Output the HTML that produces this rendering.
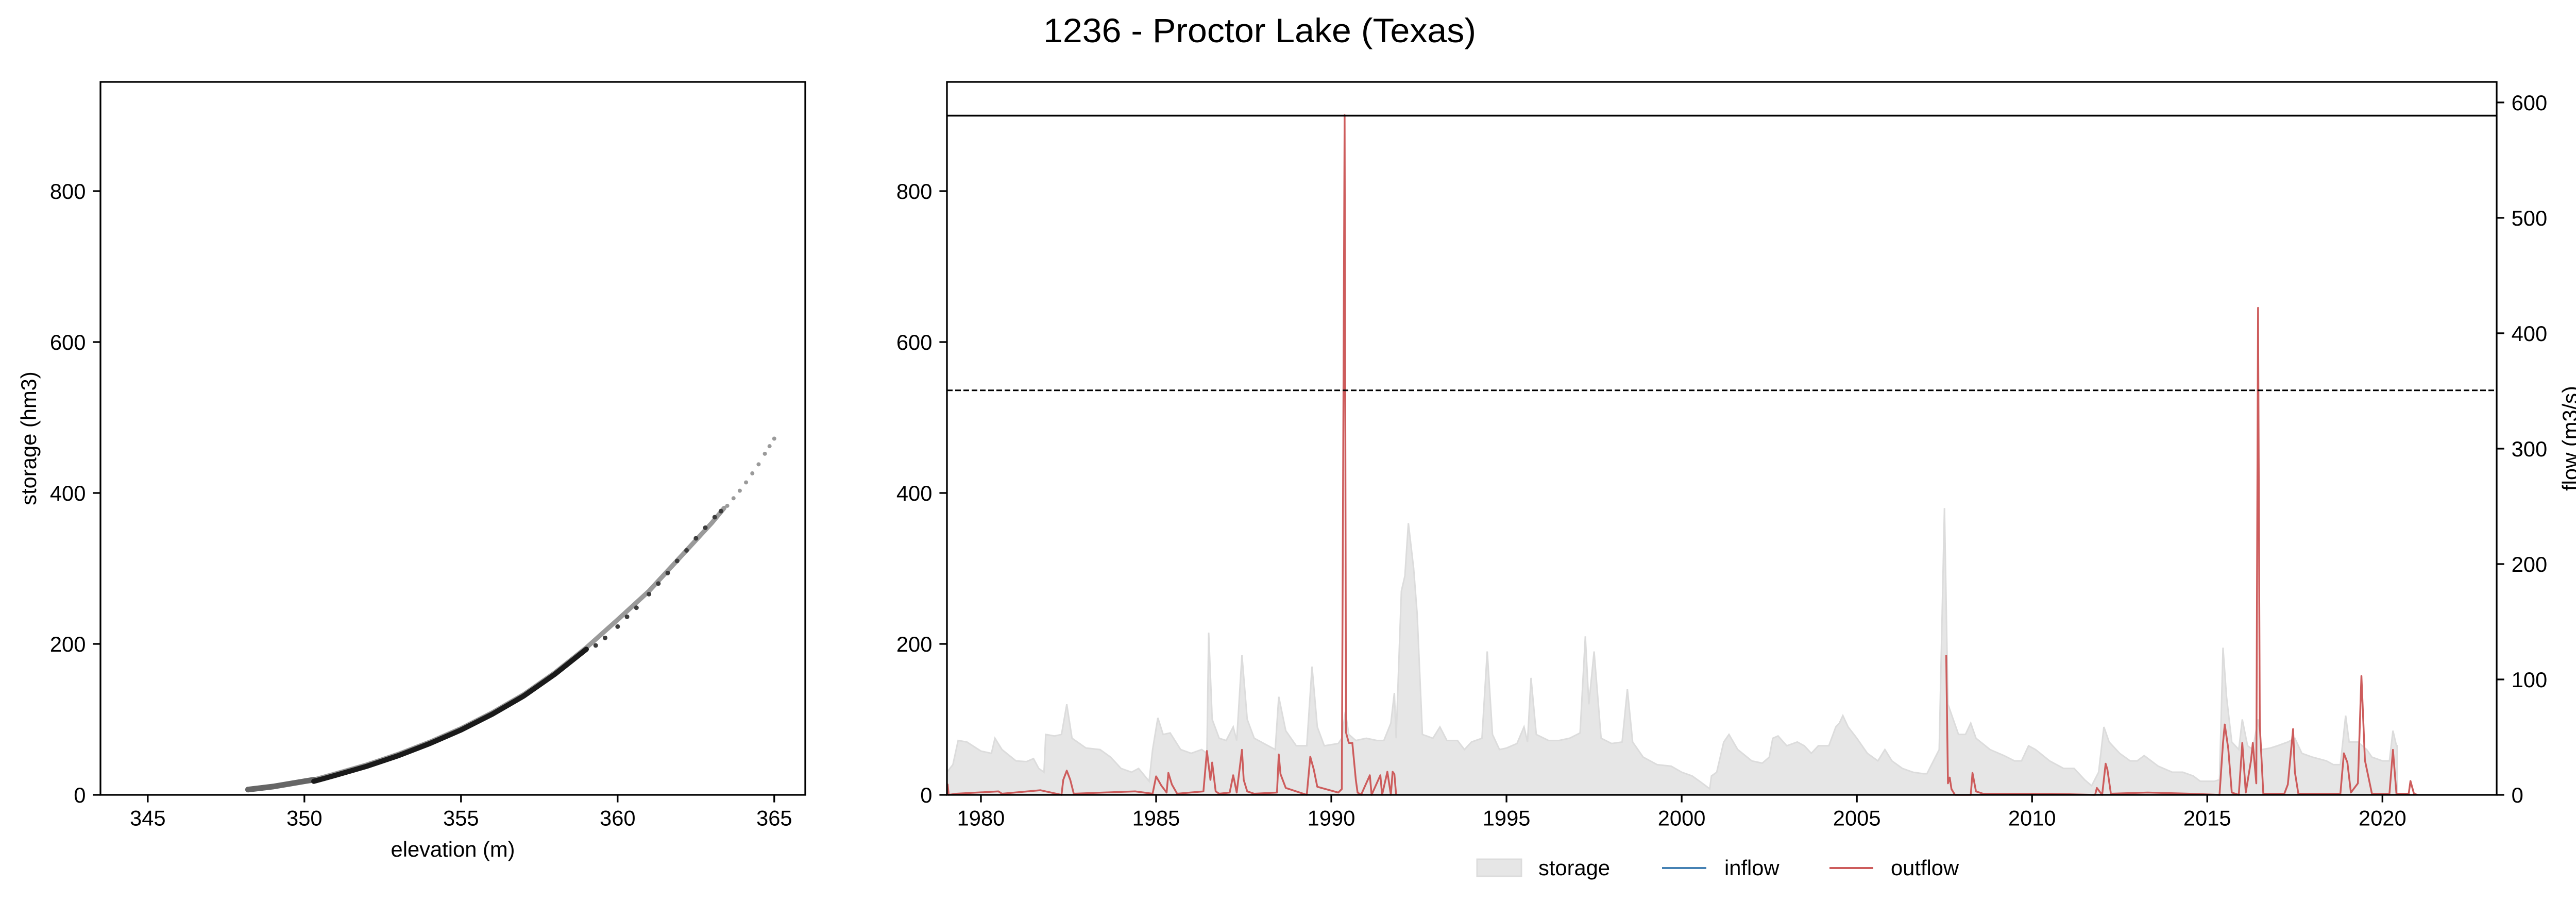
<!DOCTYPE html>
<html><head><meta charset="utf-8"><style>
html,body{margin:0;padding:0;background:#fff;}
svg{display:block;font-family:"Liberation Sans","DejaVu Sans",sans-serif;}
</style></head>
<body>
<svg id="fig" width="5040" height="1751" viewBox="0 0 5040 1751" xmlns="http://www.w3.org/2000/svg">
<rect width="5040" height="1751" fill="#fff"/>
<text x="2445" y="82" font-size="66" text-anchor="middle" textLength="840" lengthAdjust="spacingAndGlyphs">1236 - Proctor Lake (Texas)</text>
<g id="left"></g>
<g id="right"></g>
<g id="legend">
  <rect x="2867" y="1668" width="86" height="33" fill="#e6e6e6" stroke="#dcdcdc" stroke-width="3"/>
  <text x="2986" y="1699" font-size="41.7">storage</text>
  <line x1="3226" y1="1685" x2="3312" y2="1685" stroke="#4682b4" stroke-width="4"/>
  <text x="3347" y="1699" font-size="41.7">inflow</text>
  <line x1="3551" y1="1685" x2="3636" y2="1685" stroke="#cd5c5c" stroke-width="4"/>
  <text x="3670" y="1699" font-size="41.7">outflow</text>
</g>
</svg>
<script>
// ---- left chart data: elevation (m) vs storage (hm3)
const curveElev = [348.2,349,350,350.3,351,352,353,354,355,356,357,358,359,360,361,362,363,363.4];
const curveStor = [7,11,18,20,28,40,54,70,88,109,133,162,195,232,270,315,360,380];
const darkElev = [359.3,359.6,360.0,360.3,360.6,361.0,361.3,361.6,361.9,362.2,362.5,362.8,363.1,363.3];
const darkStor = [200,210,225,238,250,268,282,296,312,326,342,356,370,378];
const lightElev = [363.5,363.7,363.9,364.1,364.3,364.5,364.7,364.85,365.0];
const lightStor = [383,393,403,414,426,438,452,462,472];
const leftXTicks = [345,350,355,360,365];
const leftYTicks = [0,200,400,600,800];

// ---- right chart data
const storYears = [1979.03,1979.2,1979.35,1979.6,1980.0,1980.3,1980.4,1980.6,1981.0,1981.3,1981.5,1981.65,1981.8,1981.85,1982.1,1982.3,1982.45,1982.6,1983.0,1983.4,1983.7,1984.0,1984.3,1984.5,1984.8,1984.9,1985.05,1985.2,1985.4,1985.7,1986.0,1986.3,1986.45,1986.5,1986.6,1986.8,1987.0,1987.2,1987.3,1987.45,1987.6,1987.8,1988.2,1988.4,1988.5,1988.7,1989.0,1989.3,1989.45,1989.6,1989.8,1990.2,1990.3,1990.4,1990.5,1990.7,1991.0,1991.3,1991.5,1991.7,1991.8,1991.85,1992.0,1992.1,1992.2,1992.35,1992.45,1992.6,1992.9,1993.1,1993.3,1993.6,1993.8,1994.0,1994.3,1994.45,1994.6,1994.8,1995.0,1995.3,1995.5,1995.6,1995.7,1995.85,1996.2,1996.5,1996.8,1997.1,1997.25,1997.35,1997.5,1997.7,1998.0,1998.3,1998.45,1998.6,1998.9,1999.3,1999.7,2000.0,2000.3,2000.6,2000.8,2000.85,2001.0,2001.2,2001.35,2001.6,2002.0,2002.3,2002.5,2002.6,2002.75,2003.0,2003.3,2003.5,2003.7,2003.9,2004.2,2004.4,2004.5,2004.6,2004.75,2005.0,2005.3,2005.6,2005.8,2006.0,2006.3,2006.6,2006.9,2007.0,2007.35,2007.5,2007.6,2007.9,2008.1,2008.25,2008.4,2008.8,2009.2,2009.5,2009.7,2009.9,2010.1,2010.5,2010.9,2011.2,2011.5,2011.7,2011.9,2012.05,2012.2,2012.5,2012.8,2013.0,2013.2,2013.4,2013.6,2014.0,2014.3,2014.6,2014.8,2015.2,2015.35,2015.45,2015.55,2015.7,2015.9,2016.0,2016.15,2016.3,2016.45,2016.55,2016.8,2017.0,2017.3,2017.5,2017.7,2018.0,2018.4,2018.6,2018.8,2018.95,2019.05,2019.3,2019.55,2019.7,2020.0,2020.2,2020.3,2020.4,2020.42];
const storValues = [30,40,72,70,58,55,75,60,45,44,48,35,30,80,78,80,120,75,62,60,50,35,30,35,18,60,102,80,82,60,55,60,55,215,100,75,72,90,72,185,100,75,65,60,130,85,65,65,170,90,65,68,75,110,80,72,75,72,72,95,135,75,270,290,360,300,240,80,75,90,72,72,60,70,75,190,80,60,62,68,90,70,155,80,72,72,75,82,210,120,190,75,68,70,140,70,50,40,38,30,25,15,8,25,30,70,80,60,45,42,50,75,78,65,70,65,55,65,65,90,95,105,90,75,55,45,60,45,35,30,28,28,60,380,120,80,80,95,75,60,52,45,45,65,60,45,35,35,20,12,30,90,70,55,45,45,52,45,38,30,30,25,18,18,20,195,130,70,60,100,65,60,100,60,62,65,70,75,55,50,45,40,40,105,70,70,60,50,45,45,85,65,65];
const flowYears = [1979.03,1979.05,1979.08,1979.3,1980.5,1980.6,1981.7,1982.3,1982.35,1982.45,1982.55,1982.65,1983.5,1984.4,1984.9,1985.0,1985.15,1985.3,1985.35,1985.45,1985.6,1986.35,1986.45,1986.55,1986.6,1986.7,1986.8,1987.1,1987.2,1987.3,1987.45,1987.5,1987.6,1987.8,1988.45,1988.5,1988.55,1988.7,1989.3,1989.4,1989.5,1989.6,1990.2,1990.3,1990.38,1990.42,1990.5,1990.6,1990.7,1990.75,1990.85,1991.1,1991.15,1991.4,1991.45,1991.6,1991.7,1991.75,1991.8,1991.85,null,2007.55,2007.6,2007.65,2007.7,2007.8,2008.25,2008.3,2008.4,2008.6,2009.5,2010.5,2011.8,2011.85,2012.0,2012.1,2012.15,2012.25,2013.3,2014.5,2015.35,2015.45,2015.5,2015.6,2015.7,2015.9,2016.0,2016.1,2016.25,2016.3,2016.4,2016.45,2016.5,2016.6,2017.2,2017.3,2017.45,2017.5,2017.6,2018.8,2018.9,2019.0,2019.1,2019.3,2019.4,2019.5,2019.7,2020.2,2020.3,2020.4,2020.75,2020.8,2020.9,2021.0];
const flowValues = [0,9,0,1,3,1,4,0,13,21,13,1,2,3,1,16,8,2,19,9,1,3,38,13,28,3,1,2,17,2,39,13,3,1,2,35,18,6,0,33,22,7,2,5,589,54,45,45,13,2,0,17,0,17,0,20,0,20,18,0,null,121,10,15,5,0,0,19,3,1,1,1,0,6,0,27,22,1,2,1,0,45,61,40,2,0,45,2,30,45,10,422,60,1,1,9,57,20,1,1,36,28,2,10,103,30,1,1,39,1,1,12,1,0];
const inflowYears = [];
const inflowValues = [];
const rightYTicks = [0,200,400,600,800];
const flowTicks = [0,100,200,300,400,500,600];
const yearTicks = [1980,1985,1990,1995,2000,2005,2010,2015,2020];
const refStorageMax = 900;
const refStorageDashed = 536;

const NS = "http://www.w3.org/2000/svg";
function mk(parent, tag, attrs, text){
  const e = document.createElementNS(NS, tag);
  for (const k in attrs) e.setAttribute(k, attrs[k]);
  if (text !== undefined) e.textContent = text;
  parent.appendChild(e);
  return e;
}
const FS = 41.7, TL = 14.6;

// ---------- LEFT ----------
const L = {x0:195, x1:1563, y0:159, y1:1543, emin:343.49, emax:365.99, smin:0, smax:944.7};
const lx = v => L.x0 + (v - L.emin) / (L.emax - L.emin) * (L.x1 - L.x0);
const ly = v => L.y1 - (v - L.smin) / (L.smax - L.smin) * (L.y1 - L.y0);
const left = document.getElementById('left');

let pts1 = [];
curveElev.forEach((e,i)=>{ const p = lx(e)+','+ly(curveStor[i]); if (e <= 350.3) pts1.push(p); });
let el = mk(left,'polyline',{points:curveElev.map((e,i)=>lx(e)+','+ly(curveStor[i])).join(' '),fill:'none',stroke:'#9a9a9a','stroke-width':9,'stroke-linecap':'round'});


el = mk(left,'polyline',{points:pts1.join(' '),fill:'none',stroke:'#666','stroke-width':11,'stroke-linecap':'round'});


const darkPts = [];
curveElev.forEach((e,i)=>{ if (e >= 350.3 && e <= 359.3) darkPts.push(lx(e)+','+(ly(curveStor[i])+3)); });
el = mk(left,'polyline',{points:darkPts.join(' '),fill:'none',stroke:'#1a1a1a','stroke-width':10,'stroke-linecap':'round'});


darkElev.forEach((e,i)=>{
  const c = mk(left,'circle',{cx:lx(e),cy:ly(darkStor[i])+3,r:4.5,fill:'#3c3c3c'});
  
  
});
lightElev.forEach((e,i)=>{
  const c = mk(left,'circle',{cx:lx(e),cy:ly(lightStor[i]),r:4,fill:'#9a9a9a'});
  
  
});
el = mk(left,'rect',{x:L.x0,y:L.y0,width:L.x1-L.x0,height:L.y1-L.y0,fill:'none',stroke:'#000','stroke-width':3.3});


leftXTicks.forEach(t=>{
  const x = lx(t);
  mk(left,'line',{x1:x,y1:L.y1,x2:x,y2:L.y1+TL,stroke:'#000','stroke-width':3.3});
  const tx = mk(left,'text',{x:x,y:L.y1+TL+14+31,'font-size':FS,'text-anchor':'middle'},String(t));
  
  
});
leftYTicks.forEach(t=>{
  const y = ly(t);
  mk(left,'line',{x1:L.x0-TL,y1:y,x2:L.x0,y2:y,stroke:'#000','stroke-width':3.3});
  const tx = mk(left,'text',{x:L.x0-TL-14,y:y+15,'font-size':FS,'text-anchor':'end'},String(t));
  
  
});
el = mk(left,'text',{x:(L.x0+L.x1)/2,y:1663,'font-size':FS,'text-anchor':'middle'},'elevation (m)');


el = mk(left,'text',{x:0,y:0,'font-size':FS,'text-anchor':'middle',transform:'translate(70,851) rotate(-90)'},'storage (hm3)');



// ---------- RIGHT ----------
const R = {x0:1838, x1:4846, y0:159, y1:1543, tmin:1979.03, tmax:2023.26, smax:944.7, fmax:617.8};
const rx = v => R.x0 + (v - R.tmin) / (R.tmax - R.tmin) * (R.x1 - R.x0);
const rys = v => R.y1 - v / R.smax * (R.y1 - R.y0);
const ryf = v => R.y1 - v / R.fmax * (R.y1 - R.y0);
const right = document.getElementById('right');

let d = 'M'+rx(storYears[0])+','+R.y1;
storYears.forEach((t,i)=>{ d += ' L'+rx(t)+','+rys(storValues[i]); });
d += ' L'+rx(storYears[storYears.length-1])+','+R.y1+' Z';
el = mk(right,'path',{d:d,fill:'#e6e6e6',stroke:'#dcdcdc','stroke-width':3});



function seriesPath(xs, ys){
  let p = '', pen = false;
  xs.forEach((t,i)=>{
    if (t === null || ys[i] === null){ pen = false; return; }
    p += (pen ? ' L' : ' M') + rx(t) + ',' + ryf(ys[i]); pen = true;
  });
  return p;
}
if (inflowYears.length){
  el = mk(right,'path',{d:seriesPath(inflowYears,inflowValues),fill:'none',stroke:'#4682b4','stroke-width':3.5});
  
  
}
el = mk(right,'path',{d:seriesPath(flowYears,flowValues),fill:'none',stroke:'#cd5c5c','stroke-width':3.5,'stroke-linejoin':'round'});



el = mk(right,'line',{x1:R.x0,y1:rys(refStorageMax),x2:R.x1,y2:rys(refStorageMax),stroke:'#000','stroke-width':3.5});


el = mk(right,'line',{x1:R.x0,y1:rys(refStorageDashed),x2:R.x1,y2:rys(refStorageDashed),stroke:'#000','stroke-width':3,'stroke-dasharray':'11,5'});



el = mk(right,'rect',{x:R.x0,y:R.y0,width:R.x1-R.x0,height:R.y1-R.y0,fill:'none',stroke:'#000','stroke-width':3.3});


yearTicks.forEach(t=>{
  const x = rx(t);
  mk(right,'line',{x1:x,y1:R.y1,x2:x,y2:R.y1+TL,stroke:'#000','stroke-width':3.3});
  const tx = mk(right,'text',{x:x,y:R.y1+TL+14+31,'font-size':FS,'text-anchor':'middle'},String(t));
  
  
});
rightYTicks.forEach(t=>{
  const y = rys(t);
  mk(right,'line',{x1:R.x0-TL,y1:y,x2:R.x0,y2:y,stroke:'#000','stroke-width':3.3});
  const tx = mk(right,'text',{x:R.x0-TL-14,y:y+15,'font-size':FS,'text-anchor':'end'},String(t));
  
  
});
flowTicks.forEach(t=>{
  const y = ryf(t);
  mk(right,'line',{x1:R.x1,y1:y,x2:R.x1+TL,y2:y,stroke:'#000','stroke-width':3.3});
  const tx = mk(right,'text',{x:R.x1+TL+14,y:y+15,'font-size':FS,'text-anchor':'start'},String(t));
  
  
});
el = mk(right,'text',{x:0,y:0,'font-size':FS,'text-anchor':'middle',transform:'translate(5003,851) rotate(-90)'},'flow (m3/s)');


</script>
</body></html>
